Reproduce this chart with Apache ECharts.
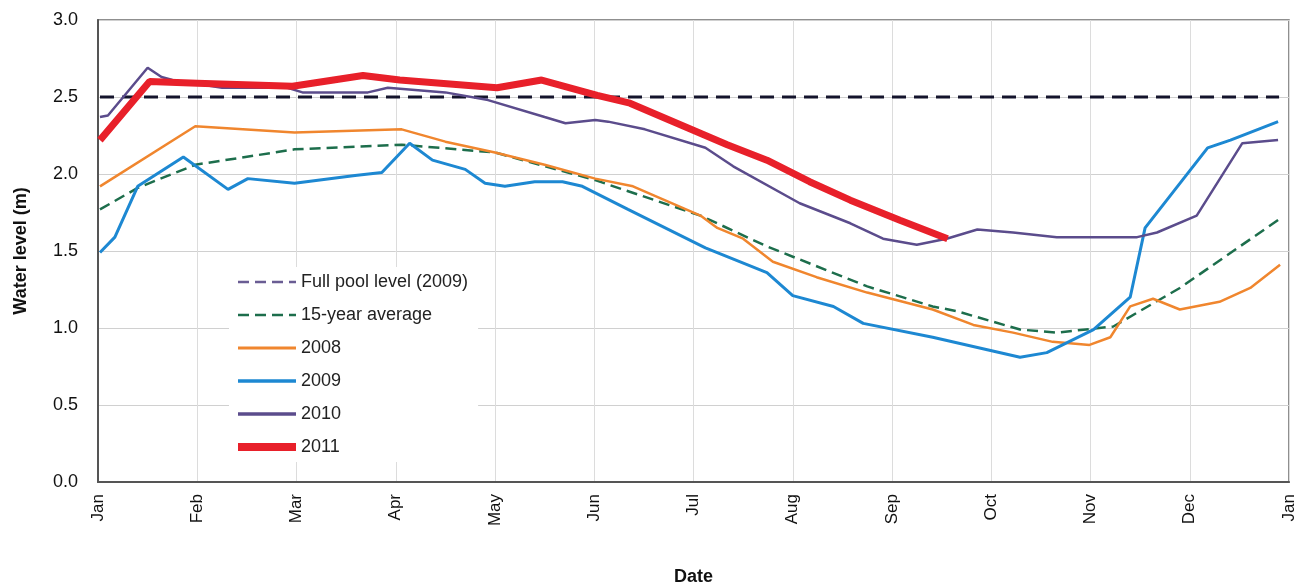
<!DOCTYPE html>
<html>
<head>
<meta charset="utf-8">
<script src="https://cdn.jsdelivr.net/npm/echarts@6/dist/echarts.min.js"></script>
<style>html,body{margin:0;padding:0;background:#fff;}#c{width:1299px;height:586px;}</style>
</head>
<body>
<div id="c"></div>
<script>
// x = months since 1 Jan (0..12), y = water level (m)
const monthLabels = ['Jan','Feb','Mar','Apr','May','Jun','Jul','Aug','Sep','Oct','Nov','Dec','Jan'];
const yTicks = [0.0, 0.5, 1.0, 1.5, 2.0, 2.5, 3.0];

const fullPool = [[0.02, 2.5], [11.9, 2.5]];

const avg15 = [[0.02,1.77],[0.40,1.91],[0.98,2.06],[1.98,2.16],[3.06,2.19],[4.00,2.14],[5.01,1.96],[6.07,1.73],[6.74,1.53],[7.75,1.27],[8.41,1.14],[8.65,1.11],[9.29,0.99],[9.66,0.97],[10.23,1.01],[10.90,1.26],[11.91,1.71]];

const y2008 = [[0.02,1.92],[0.98,2.31],[1.98,2.27],[3.06,2.29],[3.50,2.21],[4.00,2.14],[4.50,2.06],[5.01,1.97],[5.39,1.92],[6.07,1.73],[6.24,1.65],[6.50,1.58],[6.80,1.43],[7.24,1.33],[7.75,1.23],[8.41,1.12],[8.82,1.02],[9.22,0.97],[9.62,0.91],[9.99,0.89],[10.20,0.94],[10.40,1.14],[10.63,1.19],[10.90,1.12],[11.30,1.17],[11.61,1.26],[11.91,1.41]];

const y2009 = [[0.02,1.49],[0.17,1.59],[0.40,1.92],[0.86,2.11],[1.31,1.90],[1.51,1.97],[1.98,1.94],[2.59,1.99],[2.86,2.01],[3.14,2.20],[3.37,2.09],[3.70,2.03],[3.90,1.94],[4.10,1.92],[4.40,1.95],[4.68,1.95],[4.88,1.92],[5.34,1.77],[6.12,1.52],[6.74,1.36],[7.00,1.21],[7.41,1.14],[7.71,1.03],[8.41,0.94],[9.29,0.81],[9.56,0.84],[10.03,0.99],[10.40,1.20],[10.55,1.65],[11.18,2.17],[11.41,2.22],[11.89,2.34]];

const y2010 = [[0.02,2.37],[0.10,2.38],[0.50,2.69],[0.64,2.63],[0.75,2.61],[1.25,2.56],[1.91,2.56],[2.06,2.53],[2.72,2.53],[2.92,2.56],[3.50,2.53],[3.93,2.48],[4.50,2.37],[4.71,2.33],[5.01,2.35],[5.14,2.34],[5.51,2.29],[6.12,2.17],[6.40,2.05],[7.07,1.81],[7.58,1.68],[7.91,1.58],[8.25,1.54],[8.55,1.58],[8.86,1.64],[9.22,1.62],[9.66,1.59],[10.47,1.59],[10.67,1.62],[11.07,1.73],[11.53,2.20],[11.89,2.22]];

const y2011 = [[0.02,2.22],[0.52,2.60],[1.00,2.59],[1.96,2.57],[2.67,2.64],[3.04,2.61],[4.02,2.56],[4.47,2.61],[5.03,2.51],[5.36,2.46],[6.34,2.19],[6.74,2.09],[7.17,1.95],[7.58,1.83],[8.08,1.70],[8.56,1.58]];

const FONT = 'Liberation Sans, Arial, sans-serif';
const chart = echarts.init(document.getElementById('c'), null, {renderer: 'canvas'});

function line(name, data, color, width, type, z) {
  return {
    name: name, type: 'line', data: data, showSymbol: false, symbol: 'none',
    lineStyle: {color: color, width: width, type: type},
    itemStyle: {color: color}, z: z, animation: false
  };
}

chart.setOption({
  animation: false,
  backgroundColor: '#fff',
  grid: {left: 98, right: 10, top: 20, bottom: 104, outerBoundsMode: 'none', containLabel: false,
    show: true, borderColor: '#6b6b6b', borderWidth: 1.5, backgroundColor: '#fff'},
  legend: {
    orient: 'vertical', left: 229, top: 267,
    backgroundColor: '#fff', padding: [5, 10, 5, 5],
    itemWidth: 58, itemHeight: 20, itemGap: 13,
    itemStyle: {opacity: 0, borderWidth: 0},
    textStyle: {fontFamily: FONT, fontSize: 18, lineHeight: 20, color: '#222'},
    data: [
      {name: 'Full pool level (2009)', lineStyle: {color: '#6a5d94', type: [11, 6], width: 2.5}},
      {name: '15-year average', lineStyle: {type: [11, 6], width: 2.5}},
      {name: '2008', lineStyle: {width: 3}},
      {name: '2009', lineStyle: {width: 3.5}},
      {name: '2010', lineStyle: {width: 3.5}},
      {name: '2011', lineStyle: {width: 8}}
    ]
  },
  xAxis: {
    type: 'value', min: 0, max: 12, interval: 1,
    name: 'Date', nameLocation: 'middle', nameGap: 86,
    nameTextStyle: {fontFamily: FONT, fontSize: 18, fontWeight: 'bold', color: '#111'},
    axisLine: {show: true, lineStyle: {color: '#555', width: 2}},
    axisTick: {show: false},
    axisLabel: {rotate: 90, margin: 12, fontFamily: FONT, fontSize: 17, color: '#111',
      formatter: function (v) { return monthLabels[Math.round(v)]; }},
    splitLine: {show: true, lineStyle: {color: '#dcdcdc', width: 1}}
  },
  yAxis: {
    type: 'value', min: 0, max: 3, interval: 0.5,
    name: 'Water level (m)', nameLocation: 'middle', nameGap: 68,
    nameTextStyle: {fontFamily: FONT, fontSize: 18, fontWeight: 'bold', color: '#111'},
    axisLine: {show: true, lineStyle: {color: '#555', width: 2}},
    axisTick: {show: false},
    axisLabel: {margin: 20, fontFamily: FONT, fontSize: 18, color: '#111',
      formatter: function (v) { return yTicks.includes(v) ? v.toFixed(1) : ''; }},
    splitLine: {show: true, lineStyle: {color: '#d0d0d0', width: 1}}
  },
  series: [
    line('Full pool level (2009)', fullPool, '#14142c', 3, [14, 8], 3),
    line('15-year average', avg15, '#1d6e4c', 2.5, [11, 6], 4),
    line('2008', y2008, '#f0862e', 2.5, 'solid', 5),
    line('2009', y2009, '#1d88d2', 3, 'solid', 6),
    line('2010', y2010, '#5b4c8c', 2.5, 'solid', 7),
    line('2011', y2011, '#e8202a', 7, 'solid', 8)
  ]
});
</script>
</body>
</html>
